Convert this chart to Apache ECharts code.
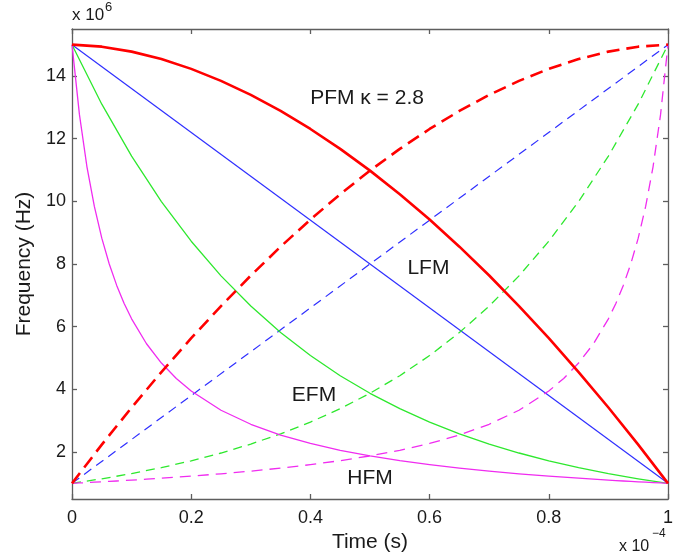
<!DOCTYPE html>
<html>
<head>
<meta charset="utf-8">
<title>Frequency laws of chirp signals</title>
<script src="https://cdn.jsdelivr.net/npm/echarts@6/dist/echarts.min.js"></script>
<style>
  html, body { margin: 0; padding: 0; background: #ffffff; }
  #chart { width: 694px; height: 558px; }
</style>
</head>
<body>
<div id="chart"></div>
<script>
// Time axis samples, in units of 1e-4 s
const timeGrid = [0, 0.05, 0.1, 0.15, 0.2, 0.25, 0.3, 0.35, 0.4, 0.45, 0.5,
                  0.55, 0.6, 0.65, 0.7, 0.75, 0.8, 0.85, 0.9, 0.95, 1];
const timeGridHfm = [0, 0.0125, 0.025, 0.0375, 0.05, 0.0625, 0.075, 0.0875, 0.1, 0.125, 0.15, 0.175,
                     0.2, 0.25, 0.3, 0.35, 0.4, 0.45, 0.5, 0.55, 0.6, 0.65, 0.7, 0.75, 0.8,
                     0.825, 0.85, 0.875, 0.9, 0.9125, 0.925, 0.9375, 0.95, 0.9625, 0.975, 0.9875, 1];
const timeLfm = [0, 1];

// Instantaneous frequency, in units of 1e6 Hz
const lfmDown = [15, 1];
const lfmUp = [1, 15];

const efmDown = [15, 13.101, 11.442, 9.993, 8.727, 7.622, 6.657, 5.814, 5.078, 4.435, 3.873,
                 3.383, 2.954, 2.580, 2.253, 1.968, 1.719, 1.501, 1.311, 1.145, 1];
const efmUp = [1, 1.145, 1.311, 1.501, 1.719, 1.968, 2.253, 2.580, 2.954, 3.383, 3.873,
               4.435, 5.078, 5.814, 6.657, 7.622, 8.727, 9.993, 11.442, 13.101, 15];

const hfmDown = [15, 12.766, 11.111, 9.836, 8.824, 8.0, 7.317, 6.742, 6.25, 5.455, 4.839, 4.348,
                 3.947, 3.333, 2.885, 2.542, 2.273, 2.055, 1.875, 1.724, 1.596, 1.485, 1.389, 1.304, 1.230,
                 1.195, 1.163, 1.132, 1.103, 1.089, 1.075, 1.062, 1.049, 1.036, 1.024, 1.012, 1];
const hfmUp = [1, 1.012, 1.024, 1.036, 1.049, 1.062, 1.075, 1.089, 1.103, 1.132, 1.163, 1.195,
               1.230, 1.304, 1.389, 1.485, 1.596, 1.724, 1.875, 2.055, 2.273, 2.542, 2.885, 3.333, 3.947,
               4.348, 4.839, 5.455, 6.25, 6.742, 7.317, 8.0, 8.824, 9.836, 11.111, 12.766, 15];

const pfmDown = [15, 14.936, 14.778, 14.540, 14.227, 13.845, 13.397, 12.884, 12.309, 11.674, 10.980,
                 10.227, 9.418, 8.553, 7.632, 6.658, 5.631, 4.551, 3.419, 2.235, 1];
const pfmUp = [1, 2.235, 3.419, 4.551, 5.631, 6.658, 7.632, 8.553, 9.418, 10.227, 10.980,
               11.674, 12.309, 12.884, 13.397, 13.845, 14.227, 14.540, 14.778, 14.936, 15];

// Axis ticks
const xTickValues = [0, 0.2, 0.4, 0.6, 0.8, 1];
const yTickValues = [2, 4, 6, 8, 10, 12, 14];

// Curve labels and the (time, frequency) point each is centred on
const curveLabels = ['PFM \u03ba = 2.8', 'LFM', 'EFM', 'HFM'];
const curveLabelAnchors = [[0.495, 13.28], [0.598, 7.86], [0.406, 3.82], [0.5, 1.17]];

const FONT = '"Liberation Sans", Arial, Helvetica, sans-serif';
const AXIS_COLOR = '#5e5e5e';
const TEXT_COLOR = '#1a1a1a';

function pairs(times, values) {
  return times.map((t, i) => [t, values[i]]);
}

function curve(name, times, values, color, width, dashed, dash) {
  return {
    name: name,
    type: 'line',
    data: pairs(times, values),
    symbol: 'none',
    smooth: false,
    silent: true,
    animation: false,
    lineStyle: {
      color: color,
      width: width,
      type: dashed ? dash : 'solid',
      cap: 'butt',
      join: 'round'
    }
  };
}

const chart = echarts.init(document.getElementById('chart'), null, { renderer: 'canvas' });

const frameAxis = {
  axisLine: { show: true, onZero: false, lineStyle: { color: AXIS_COLOR, width: 1.3 } },
  axisTick: { show: true, inside: true, length: 5, lineStyle: { color: AXIS_COLOR, width: 1.3 } },
  splitLine: { show: false }
};

const option = {
  backgroundColor: '#ffffff',
  animation: false,
  grid: { left: 72, top: 29, right: 26, bottom: 59, containLabel: false, outerBoundsMode: 'none' },
  xAxis: [
    Object.assign({}, frameAxis, {
      type: 'value', position: 'bottom', min: 0, max: 1, interval: 0.2,
      name: 'Time (s)', nameLocation: 'middle', nameGap: 26,
      nameTextStyle: { fontFamily: FONT, fontSize: 21, color: TEXT_COLOR },
      axisTick: Object.assign({}, frameAxis.axisTick, { customValues: xTickValues }),
      axisLabel: {
        customValues: xTickValues,
        fontFamily: FONT, fontSize: 18, color: TEXT_COLOR, margin: 10,
        formatter: v => String(Math.round(v * 10) / 10)
      }
    }),
    Object.assign({}, frameAxis, {
      type: 'value', position: 'top', min: 0, max: 1, interval: 0.2,
      axisTick: Object.assign({}, frameAxis.axisTick, { customValues: xTickValues }),
      axisLabel: { show: false }
    })
  ],
  yAxis: [
    Object.assign({}, frameAxis, {
      type: 'value', position: 'left', min: 0.5, max: 15.5,
      name: 'Frequency (Hz)', nameLocation: 'middle', nameGap: 33, nameRotate: 90,
      nameTextStyle: { fontFamily: FONT, fontSize: 21, color: TEXT_COLOR },
      axisTick: Object.assign({}, frameAxis.axisTick, { customValues: yTickValues }),
      axisLabel: {
        customValues: yTickValues,
        fontFamily: FONT, fontSize: 18, color: TEXT_COLOR, margin: 6
      }
    }),
    Object.assign({}, frameAxis, {
      type: 'value', position: 'right', min: 0.5, max: 15.5,
      axisTick: Object.assign({}, frameAxis.axisTick, { customValues: yTickValues }),
      axisLabel: { show: false }
    })
  ],
  series: [
    curve('LFM down', timeLfm, lfmDown, '#2f2fff', 1.2, false),
    curve('LFM up', timeLfm, lfmUp, '#2f2fff', 1.2, true, [9, 6]),
    curve('EFM down', timeGrid, efmDown, '#2ee82e', 1.3, false),
    curve('EFM up', timeGrid, efmUp, '#2ee82e', 1.3, true, [9, 6]),
    curve('HFM down', timeGridHfm, hfmDown, '#f02cf0', 1.3, false),
    curve('HFM up', timeGridHfm, hfmUp, '#f02cf0', 1.3, true, [11, 7]),
    curve('PFM down', timeGrid, pfmDown, '#ff0000', 2.6, false),
    curve('PFM up', timeGrid, pfmUp, '#ff0000', 2.6, true, [13, 7])
  ],
  graphic: [
    { type: 'text', left: 72, top: 7, silent: true,
      style: { text: 'x 10', font: '17px ' + FONT, fill: TEXT_COLOR } },
    { type: 'text', left: 105, top: 1, silent: true,
      style: { text: '6', font: '13px ' + FONT, fill: TEXT_COLOR } },
    { type: 'text', left: 619, top: 539, silent: true,
      style: { text: 'x 10', font: '16px ' + FONT, fill: TEXT_COLOR } },
    { type: 'text', left: 652, top: 528, silent: true,
      style: { text: '\u22124', font: '12px ' + FONT, fill: TEXT_COLOR } }
  ]
};

chart.setOption(option);

// Curve labels, placed at their data coordinates
const labelGraphics = curveLabels.map((text, i) => {
  const p = chart.convertToPixel({ xAxisIndex: 0, yAxisIndex: 0 }, curveLabelAnchors[i]);
  return {
    type: 'text', id: 'curve-label-' + i, x: p[0], y: p[1], silent: true, z: 10,
    style: {
      text: text, font: '21px ' + FONT, fill: TEXT_COLOR,
      align: 'center', verticalAlign: 'middle'
    }
  };
});
chart.setOption({ graphic: option.graphic.concat(labelGraphics) });
</script>
</body>
</html>
